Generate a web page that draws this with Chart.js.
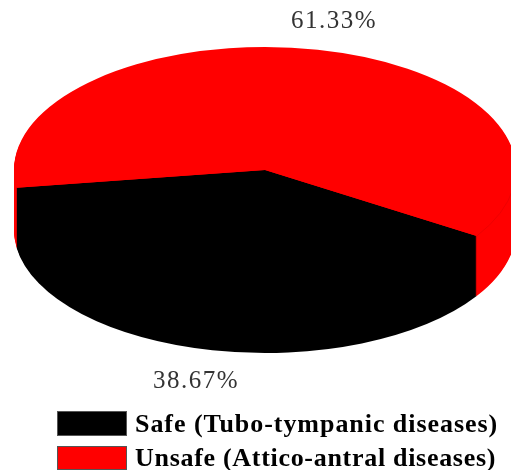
<!DOCTYPE html>
<html>
<head>
<meta charset="utf-8">
<title>Safe and unsafe ear disease</title>
<script src="https://cdn.jsdelivr.net/npm/chart.js@4"></script>
<style>
    html, body { margin: 0; padding: 0; background: #fff; overflow: hidden; }
    #wrap { width: 511px; height: 470px; }
</style>
</head>
<body>
<div id="wrap"><canvas id="pieChart" width="511" height="470"></canvas></div>
<script>
const categories = ['Safe (Tubo-tympanic diseases)', 'Unsafe (Attico-antral diseases)'];
const shares = [38.67, 61.33];
const sliceColors = ['#000000', '#ff0000'];

// tilted disc: where the top face sits and how thick the side wall is
const disc = { x: 265, y: 170, rx: 251, ry: 123, depth: 60 };
const startAngle = 122.5;
const labelSpots = [{ x: 196, y: 381 }, { x: 334, y: 21 }];
const keyRows = [{ y: 411, h: 25, textY: 425, spacing: '0.95px' }, { y: 446, h: 24, textY: 459, spacing: '0.7px' }];

const tiltedPie = {
    id: 'tiltedPie',
    // stacks the arcs from the bottom of the wall up to the top face
    beforeDatasetDraw(chart) {
        const ctx = chart.ctx;
        const arcs = chart.getDatasetMeta(0).data;
        const r = arcs[0].outerRadius;
        for (let d = disc.depth; d >= 0; d--) {
            ctx.save();
            ctx.translate(disc.x, disc.y + d);
            ctx.scale(disc.rx / r, disc.ry / r);
            ctx.translate(-arcs[0].x, -arcs[0].y);
            arcs.forEach(arc => arc.draw(ctx));
            ctx.restore();
        }

        // thin rim line where the red top face meets its wall
        ctx.save();
        ctx.strokeStyle = '#ee0000';
        ctx.lineWidth = 1;
        ctx.beginPath();
        ctx.ellipse(disc.x, disc.y, disc.rx, disc.ry, 0, 0.15, (startAngle - 90) * Math.PI / 180);
        ctx.stroke();
        ctx.restore();
        return false;
    },
    afterDraw(chart) {
        const ctx = chart.ctx;
        ctx.save();
        ctx.textBaseline = 'middle';

        // percentages
        ctx.font = '25px "Liberation Serif"';
        ctx.letterSpacing = '1.5px';
        ctx.fillStyle = '#333333';
        ctx.textAlign = 'center';
        shares.forEach((v, i) => {
            ctx.fillText(v.toFixed(2) + '%', labelSpots[i].x, labelSpots[i].y);
        });

        // key under the pie, swatch then name
        ctx.font = 'bold 26px "Liberation Serif"';
        ctx.textAlign = 'left';
        ctx.lineWidth = 1;
        ctx.strokeStyle = '#555555';
        categories.forEach((name, i) => {
            const row = keyRows[i];
            ctx.fillStyle = sliceColors[i];
            ctx.fillRect(57, row.y, 70, row.h);
            ctx.strokeRect(57.5, row.y + 0.5, 69, row.h - 1);
            ctx.fillStyle = '#000000';
            ctx.letterSpacing = row.spacing;
            ctx.fillText(name, 135, row.textY);
        });
        ctx.restore();
    }
};

new Chart(document.getElementById('pieChart'), {
    type: 'pie',
    plugins: [tiltedPie],
    data: {
        labels: categories,
        datasets: [{
            data: shares,
            backgroundColor: sliceColors,
            borderWidth: 0
        }]
    },
    options: {
        responsive: false,
        animation: false,
        rotation: startAngle,
        plugins: {
            tooltip: { enabled: false },
            legend: { display: false }
        }
    }
});
</script>
</body>
</html>
